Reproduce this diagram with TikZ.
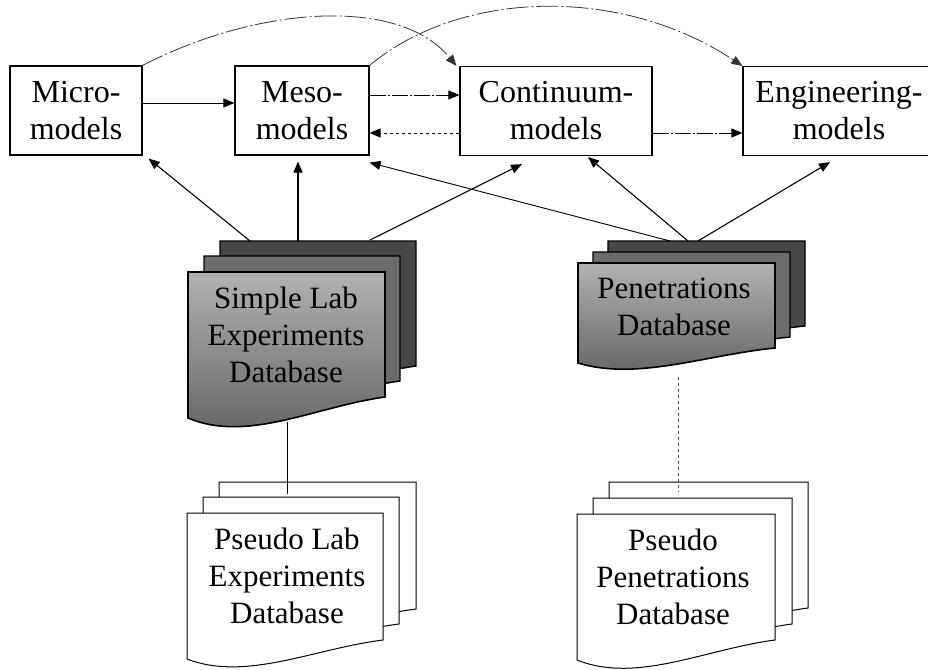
\documentclass[tikz,border=0pt]{standalone}
\usepackage{fontspec}
\setmainfont{Liberation Serif}
\usetikzlibrary{arrows.meta}

% A "document" sheet: top-left corner (#1,#2), width #3, left height #4,
% right edge shorter by #5, wavy bottom; #6 = draw options
\newcommand\docsheet[6]{%
  \draw[#6] (#1,#2) -- ({#1+#3},#2) -- ({#1+#3},{#2+#4-#5})
    .. controls ({#1+0.65*#3},{#2+#4-0.55*#5}) and ({#1+0.3*#3},{#2+#4+1.2*#5})
    .. (#1,{#2+#4}) -- cycle;}

\tikzset{
  modelbox/.style={draw, line width=1.2pt, minimum height=89pt, inner sep=0pt,
    align=center, font=\fontsize{32}{37}\selectfont},
  dbtext/.style={align=center, inner sep=0pt, font=\fontsize{31}{37}\selectfont},
  tip/.style={-{Triangle[length=11pt,width=9pt]}},
  feed/.style={tip, line width=1.1pt},
  flow/.style={tip, line width=0.9pt},
  flowdash/.style={flow, dash pattern=on 16pt off 2pt on 2pt off 2pt},
  arc/.style={tip, line width=0.8pt, black!80, dash pattern=on 22pt off 3pt on 2pt off 3pt},
  darkback/.style={draw, line width=1.4pt, fill=black!72},
  darkmid/.style={draw, line width=1.4pt, fill=black!58},
  darkfront/.style={draw, line width=1.6pt, top color=black!30, bottom color=black!62},
  plainsheet/.style={draw, line width=1pt, fill=white},
}

\begin{document}
\begin{tikzpicture}[x=1pt,y=-1pt]
\useasboundingbox (0,0) rectangle (928,669);
\clip (0,0) rectangle (928,669);

% model boxes
\node[modelbox, minimum width=132pt] (micro) at (76,110.5) {Micro-\\models};
\node[modelbox, minimum width=134pt] (meso)  at (302,110.5) {Meso-\\models};
\node[modelbox, minimum width=192pt] (cont)  at (556,111) {Continuum-\\models};
\node[modelbox, minimum width=192pt] (eng)   at (839,111) {Engineering-\\models};

% simple lab experiments stack
\docsheet{220}{241}{196}{146}{21}{darkback}
\docsheet{204}{256}{196}{146}{21}{darkmid}
\docsheet{188}{272}{197}{146}{21}{darkfront}
\coordinate (slabtop) at (220,241);
\coordinate (slabbot) at (287,422);
\node[dbtext] (slab) at (286,335) {Simple Lab\\Experiments\\Database};

% penetrations stack
\docsheet{608}{241}{197}{100}{15}{darkback}
\docsheet{593}{252}{197}{100}{15}{darkmid}
\docsheet{578}{263}{197}{100}{15}{darkfront}
\coordinate (pentop) at (608,241);
\coordinate (penbot) at (678,377);
\node[dbtext] (pen) at (674,307) {Penetrations\\Database};

% pseudo lab experiments stack
\docsheet{219}{482}{197}{146}{19}{plainsheet}
\docsheet{203}{497}{196}{146}{19}{plainsheet}
\docsheet{187}{513}{196}{146}{19}{plainsheet}
\coordinate (pslabtop) at (287,494);
\node[dbtext] (pslab) at (287,576) {Pseudo Lab\\Experiments\\Database};

% pseudo penetrations stack
\docsheet{609}{482}{199}{146}{20}{plainsheet}
\docsheet{593}{498}{199}{146}{20}{plainsheet}
\docsheet{577}{514}{198}{146}{20}{plainsheet}
\coordinate (ppentop) at (678,492);
\node[dbtext] (ppen) at (673,577) {Pseudo\\Penetrations\\Database};

% links between model levels
\draw[flow] ([yshift=7.5pt]micro.east) -- ([yshift=7.5pt]meso.west);
\draw[flowdash] ([yshift=15.5pt]meso.east) -- ([yshift=16pt]cont.west);
\draw[flow, dashed] ([yshift=-22pt]cont.west) -- ([yshift=-22.5pt]meso.east);
\draw[flowdash] ([yshift=-22pt]cont.east) -- ([yshift=-22pt]eng.west);
\draw[arc] (micro.north east) .. controls (260,5) and (400,-3) .. ([xshift=-3pt]cont.north west);
\draw[arc] (meso.north east) .. controls (460,-10) and (620,-15) .. (eng.north west);

% data feeding the models
\draw[feed] ([xshift=30pt]slabtop) -- ([xshift=6pt,yshift=-3pt]micro.south east);
\draw[feed] ([xshift=78pt]slabtop) -- ([xshift=-4pt,yshift=-6pt]meso.south);
\draw[feed] ([xshift=150pt,yshift=1pt]slabtop) -- ([xshift=-34pt,yshift=-8pt]cont.south);
\draw[feed, line width=0.9pt] ([xshift=62pt]pentop) -- ([yshift=-7pt]meso.south east);
\draw[feed] ([xshift=80pt]pentop) -- ([xshift=32pt,yshift=-1pt]cont.south);
\draw[feed] ([xshift=90pt]pentop) -- ([xshift=-9pt,yshift=-6pt]eng.south);

% pseudo databases behind the databases
\draw[line width=0.9pt] (slabbot) -- (pslabtop);
\draw[line width=0.8pt, black!70, dashed] (penbot) -- (ppentop);
\end{tikzpicture}
\end{document}
